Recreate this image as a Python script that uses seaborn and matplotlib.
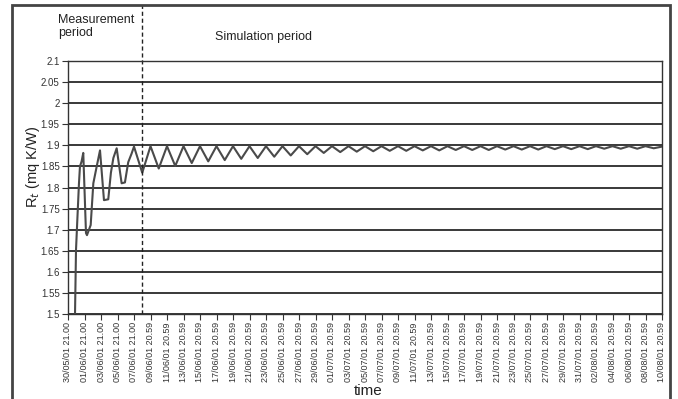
import matplotlib
matplotlib.use("Agg")
import matplotlib.pyplot as plt
import seaborn as sns
import pandas as pd
from matplotlib.patches import Rectangle

# ---- data (time in days since 30/05/01 21.00) ----
time_days = [0.85, 0.97, 1.13, 1.33, 1.45, 1.65, 1.85, 2.18, 2.3, 2.75, 3.07, 3.48, 3.88,
             4.36, 4.88, 5.2, 5.5, 5.9, 6.5, 6.9, 7.3, 7.7, 8.0,
             9, 10, 11, 12, 13, 14, 15, 16, 17, 18, 19, 20, 21, 22, 23, 24, 25, 26, 27, 28,
             29, 30, 31, 32, 33, 34, 35, 36, 37, 38, 39, 40, 41, 42, 43, 44, 45, 46, 47, 48,
             49, 50, 51, 52, 53, 54, 55, 56, 57, 58, 59, 60, 61, 62, 63, 64, 65, 66, 67, 68,
             69, 70, 71, 72]
rt_values = [1.500, 1.652, 1.723, 1.810, 1.850, 1.862, 1.882, 1.692, 1.687, 1.711, 1.810, 1.850, 1.888,
             1.770, 1.772, 1.835, 1.870, 1.893, 1.810, 1.812, 1.860, 1.880, 1.897,
             1.835, 1.898, 1.845, 1.898, 1.851, 1.898, 1.858, 1.898, 1.862, 1.898, 1.865, 1.898,
             1.868, 1.898, 1.870, 1.898, 1.873, 1.898, 1.876, 1.898, 1.879, 1.898, 1.882, 1.898,
             1.884, 1.898, 1.885, 1.898, 1.886, 1.898, 1.887, 1.898, 1.887, 1.898, 1.888, 1.898,
             1.888, 1.898, 1.889, 1.898, 1.889, 1.898, 1.889, 1.898, 1.890, 1.898, 1.890, 1.898,
             1.890, 1.898, 1.891, 1.898, 1.891, 1.898, 1.891, 1.898, 1.892, 1.898, 1.892, 1.898,
             1.892, 1.898, 1.893, 1.897]

tick_labels = ["30/05/01 21.00", "01/06/01 21.00", "03/06/01 21.00", "05/06/01 21.00",
               "07/06/01 21.00", "09/06/01 20.59", "11/06/01 20.59", "13/06/01 20.59",
               "15/06/01 20.59", "17/06/01 20.59", "19/06/01 20.59", "21/06/01 20.59",
               "23/06/01 20.59", "25/06/01 20.59", "27/06/01 20.59", "29/06/01 20.59",
               "01/07/01 20.59", "03/07/01 20.59", "05/07/01 20.59", "07/07/01 20.59",
               "09/07/01 20.59", "11/07/01 20.59", "13/07/01 20.59", "15/07/01 20.59",
               "17/07/01 20.59", "19/07/01 20.59", "21/07/01 20.59", "23/07/01 20.59",
               "25/07/01 20.59", "27/07/01 20.59", "29/07/01 20.59", "31/07/01 20.59",
               "02/08/01 20.59", "04/08/01 20.59", "06/08/01 20.59", "08/08/01 20.59",
               "10/08/01 20.59"]
tick_positions = [2 * i for i in range(len(tick_labels))]
y_ticks = [1.5, 1.55, 1.6, 1.65, 1.7, 1.75, 1.8, 1.85, 1.9, 1.95, 2.0, 2.05, 2.1]
y_tick_labels = ["1.5", "1.55", "1.6", "1.65", "1.7", "1.75", "1.8", "1.85", "1.9", "1.95", "2", "2.05", "2.1"]
split_day = 9

sns.set_style("white")
plt.rcParams["font.family"] = ["Liberation Sans", "DejaVu Sans"]

fig = plt.figure(figsize=(6.78, 3.99), dpi=100)
ax = fig.add_axes([68 / 678, 1 - 314 / 399, (662 - 68) / 678, (314 - 61) / 399])

df = pd.DataFrame({"time": time_days, "Rt": rt_values})
sns.lineplot(data=df, x="time", y="Rt", ax=ax, color="#4a4a4a", lw=1.5, sort=False, estimator=None)

for yv in y_ticks:
    ax.axhline(yv, color="#2a2a2a", lw=1.3, zorder=0)

ax.set_xlim(0, 72)
ax.set_ylim(1.5, 2.1)
ax.set_yticks(y_ticks)
ax.set_yticklabels(y_tick_labels, fontsize=7, color="#333333")
ax.set_xticks(tick_positions)
ax.set_xticklabels(tick_labels, rotation=90, fontsize=6.5, color="#333333")
ax.set_xticks([p + 1 for p in tick_positions[:-1]], minor=True)
ax.tick_params(axis="both", which="both", direction="out", length=4, width=0.8, color="#333333", pad=2)
ax.tick_params(axis="x", which="minor", length=3)
ax.tick_params(bottom=True, left=True)
for s in ax.spines.values():
    s.set_color("#333333")
    s.set_linewidth(1.0)
ax.set_xlabel("")
ax.set_ylabel("")

# dashed separator
ax.axvline(split_day, ymin=0, ymax=(314 - 5) / 253, color="#222222", lw=1.0,
           ls=(0, (3, 2)), clip_on=False)

fig.text(58 / 678, 1 - 14 / 399, "Measurement\nperiod", fontsize=9, ha="left", va="top",
         color="#222222", linespacing=1.15)
fig.text(215 / 678, 1 - 37 / 399, "Simulation period", fontsize=9, ha="left", va="center",
         color="#222222")
fig.text(33 / 678, 1 - 167 / 399, r"R$_t$ (mq K/W)", fontsize=10.5, rotation=90,
         ha="center", va="center", color="#222222")
fig.text(368 / 678, 1 - 391 / 399, "time", fontsize=11, ha="center", va="center", color="#222222")

fig.patches.append(Rectangle((12 / 678, -0.02), (670 - 12) / 678, 1 - 5 / 399 + 0.02,
                             transform=fig.transFigure, fill=False, lw=2, edgecolor="#444444"))

fig.savefig("out.png", dpi=100)
